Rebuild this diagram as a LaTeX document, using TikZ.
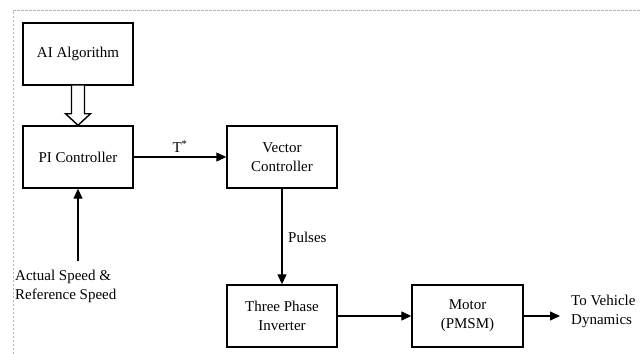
\documentclass[tikz,border=0pt]{standalone}
\usepackage{fontspec}
\setmainfont{Liberation Serif}
\usetikzlibrary{arrows.meta,calc}
\begin{document}
\begin{tikzpicture}[x=1pt,y=-1pt,
  font=\fontsize{15}{19}\selectfont,
  block/.style={draw,line width=1.4pt,minimum width=110pt,minimum height=62pt,
    align=center,inner sep=2pt},
  flow/.style={line width=1.3pt,-{Triangle[length=10pt,width=9pt]}},
  frame/.style={draw=gray!60,line width=1pt,dash pattern=on 2.5pt off 1.5pt},
  lbl/.style={inner sep=0pt,align=left}]
  \useasboundingbox (0,0) rectangle (641,354);

  % dashed enclosure (left and top edges)
  \draw[frame] (13,354) -- (13,10) -- (641,10);

  % blocks
  \node[block] (ai)  at (78,54)    {AI Algorithm};
  \node[block] (pi)  at (78,157)   {PI Controller};
  \node[block] (vc)  at (282,157)  {Vector\\Controller};
  \node[block] (inv) at (282,316)  {Three Phase\\Inverter};
  \node[block,minimum width=111pt] (mot) at (467.5,316) {Motor\\(PMSM)};

  % hollow arrow from the AI block into the PI controller
  \draw[line width=1.4pt,fill=white,line join=miter]
    ($(ai.south)+(-6.5,0)$) -- ++(0,28) -- ++(-6,0) -- (pi.north)
    -- ($(ai.south)+(12.5,28)$) -- ++(-6,0) -- ($(ai.south)+(6.5,0)$);

  % signal connectors
  \draw[flow] (pi.east) -- node[above=4pt,inner sep=0pt]{T\textsuperscript{*}} (vc.west);
  \draw[flow] (vc.south) -- (inv.north);
  \node[lbl,anchor=west] (pulses) at (288,237) {Pulses};
  \draw[flow] (inv.east) -- (mot.west);

  \coordinate (spd) at (78,261);
  \draw[flow] (spd) -- (pi.south);
  \node[lbl,anchor=west] (spdtxt) at (15,286) {Actual Speed \&\\Reference Speed};

  \coordinate (out) at (560,316);
  \draw[flow] (mot.east) -- (out);
  \node[lbl,anchor=west] (veh) at (571,311) {To Vehicle\\Dynamics};
\end{tikzpicture}
\end{document}
